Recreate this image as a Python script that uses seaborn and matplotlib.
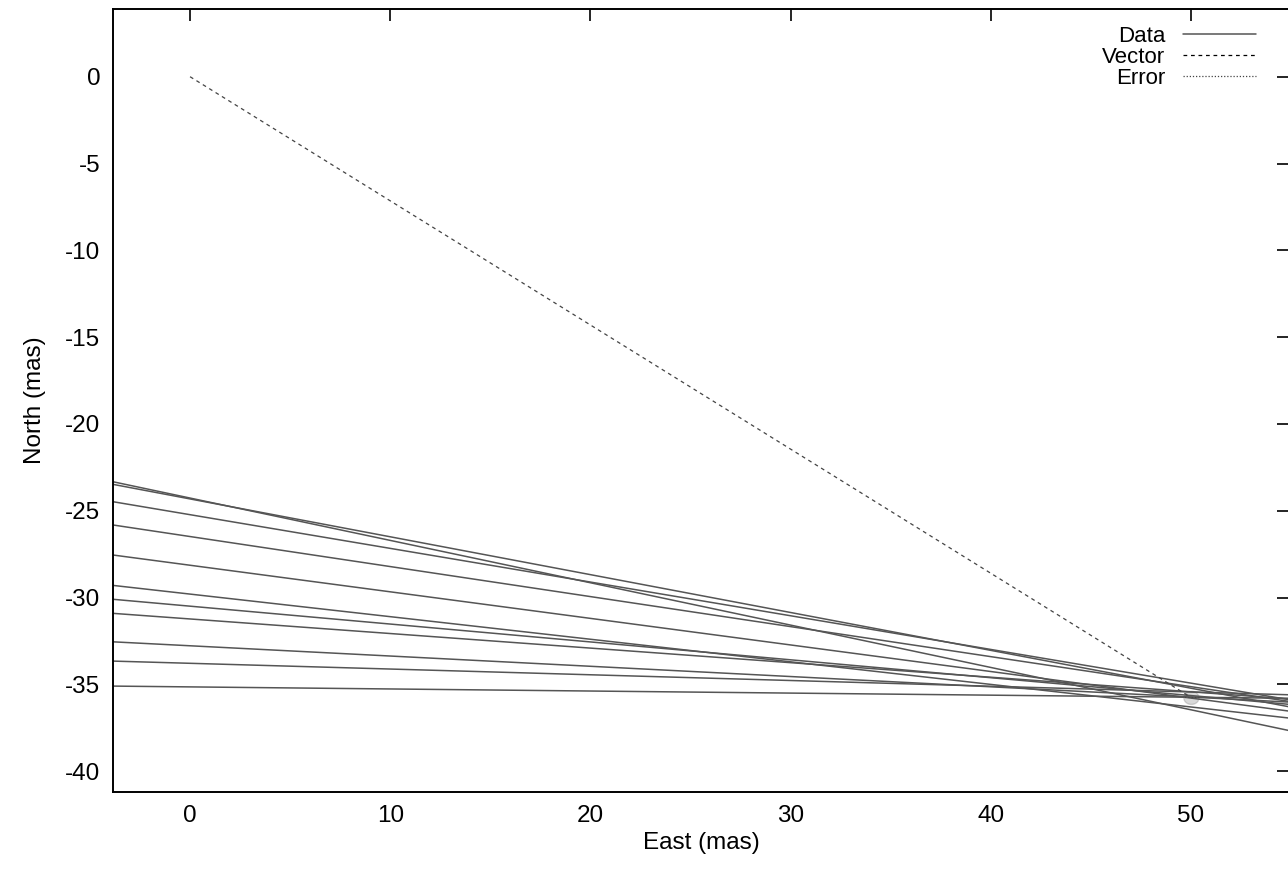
import numpy as np
import pandas as pd
import matplotlib
matplotlib.use("Agg")
import matplotlib.pyplot as plt
from matplotlib.lines import Line2D
import seaborn as sns

# data lines: north value at left edge and right edge of the plot
x_left = -3.85
x_right = 54.9
north_left = [-23.33, -23.48, -24.48, -25.82, -27.55, -29.30, -30.10, -30.91, -32.55, -33.66, -35.10]
north_right = [-37.66, -36.29, -35.88, -35.98, -36.54, -36.94, -36.15, -35.84, -36.02, -35.60, -35.80]

# vector from origin to solution
vec_east = [0.0, 50.0]
vec_north = [0.0, -35.75]

# error circle around the solution
err_center = (50.0, -35.75)
err_radius = 0.38

x_ticks = [0, 10, 20, 30, 40, 50]
y_ticks = [-40, -35, -30, -25, -20, -15, -10, -5, 0]

sns.set_style("white")
plt.rcParams['font.family'] = ['Liberation Sans', 'DejaVu Sans']
plt.rcParams['axes.unicode_minus'] = False
plt.rcParams['text.color'] = 'black'
plt.rcParams['axes.labelcolor'] = 'black'
plt.rcParams['xtick.color'] = 'black'
plt.rcParams['ytick.color'] = 'black'

rows = []
for i, (a, b) in enumerate(zip(north_left, north_right)):
    rows.append({'line': i, 'east': x_left, 'north': a})
    rows.append({'line': i, 'east': x_right, 'north': b})
df_lines = pd.DataFrame(rows)

df_vec = pd.DataFrame({'east': vec_east, 'north': vec_north})

t = np.linspace(0, 2 * np.pi, 60)
df_err = pd.DataFrame({'east': err_center[0] + err_radius * np.cos(t),
                       'north': err_center[1] + err_radius * np.sin(t)})

fig = plt.figure(figsize=(12.88, 8.72), dpi=100)
ax = fig.add_axes([113 / 1288, 80 / 872, 1176 / 1288, 783 / 872])

data_col = '#555555'
sns.lineplot(data=df_lines, x='east', y='north', units='line', estimator=None,
             color=data_col, lw=1.1, sort=False, ax=ax, legend=False)
sns.lineplot(data=df_vec, x='east', y='north', color='#444444', lw=0.9,
             linestyle=(0, (3, 3)), sort=False, ax=ax, legend=False)
sns.lineplot(data=df_err, x='east', y='north', color='#444444', lw=0.8,
             linestyle=(0, (1, 2)), sort=False, ax=ax, legend=False)

ax.set_xlim(x_left, x_right)
ax.set_ylim(-41.2, 3.9)
ax.set_xticks(x_ticks)
ax.set_yticks(y_ticks)
ax.tick_params(direction='in', length=8.5, width=1.2, labelsize=17.5,
               top=True, right=True, pad=9)
for s in ax.spines.values():
    s.set_linewidth(1.4)
    s.set_color('black')

ax.set_xlabel('East (mas)', fontsize=17.5, labelpad=4)
ax.set_ylabel('North (mas)', fontsize=17.5, labelpad=14)

handles = [Line2D([], [], color=data_col, lw=1.1),
           Line2D([], [], color='black', lw=0.9, linestyle=(0, (3, 3))),
           Line2D([], [], color='#444444', lw=0.9, linestyle=(0, (1, 1.5)))]
ax.legend(handles, ['Data', 'Vector', 'Error'], loc='upper right',
          bbox_to_anchor=(0.9855, 0.998), frameon=False, markerfirst=False,
          fontsize=16, handlelength=3.3, handletextpad=0.8,
          labelspacing=0.0, borderaxespad=0.3)

fig.savefig('out.png', dpi=100)
